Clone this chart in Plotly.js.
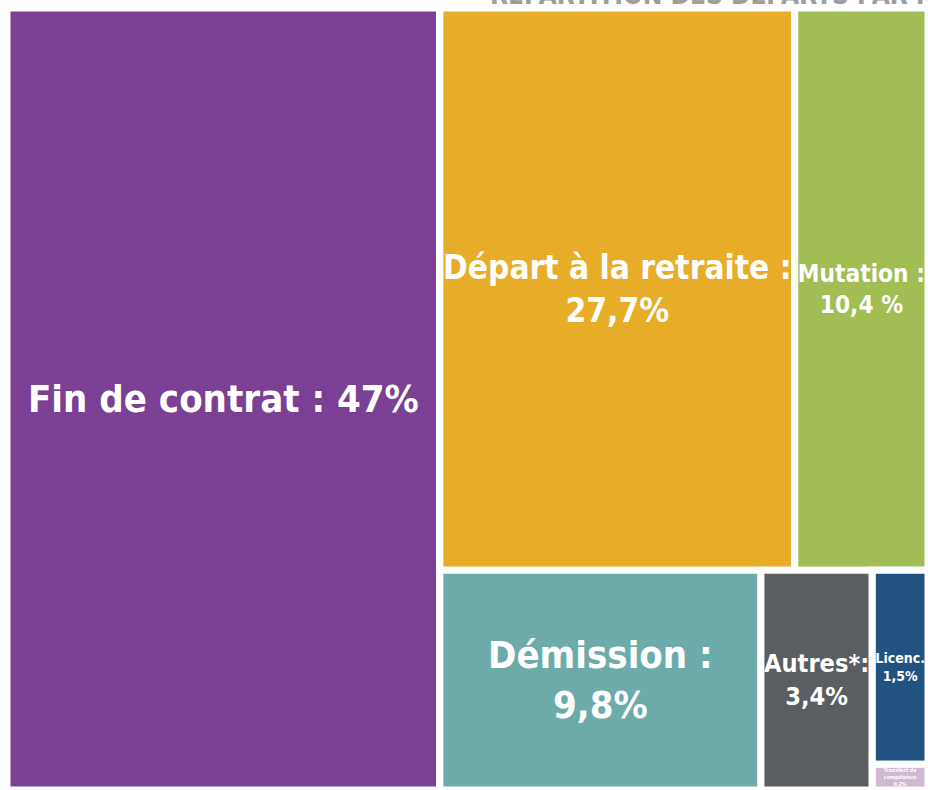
<!DOCTYPE html>
<html>
<head>
<meta charset="utf-8">
<script src="https://cdn.plot.ly/plotly-3.0.1.min.js"></script>
<style>
  html, body { margin: 0; padding: 0; background: #ffffff; overflow: hidden; }
  #chart { width: 928px; height: 790px; }
</style>
</head>
<body>
<div id="chart"></div>
<script>
// ---- data ----
const categories = ['Fin de contrat', 'Départ à la retraite', 'Mutation', 'Démission', 'Autres*', 'Licenc.', 'Transfert de compétence'];
const shares = [47, 27.7, 10.4, 9.8, 3.4, 1.5, 0.2];
const cellTexts = ['Fin de contrat : 47%', 'Départ à la retraite :<br>27,7%', 'Mutation :<br>10,4 %', 'Démission :<br>9,8%', 'Autres*:<br>3,4%', 'Licenc.<br>1,5%', 'Transfert de<br>compétence<br>0,2%'];
const cellColors = ['#7B3F93', '#E8AD28', '#A1BD53', '#6DAAAA', '#5A5E60', '#22527F', '#D0B8D3'];
// grouping that reproduces the block arrangement of the infographic
const groupOf = ['root', 'haut', 'haut', 'bas', 'bas', 'petits', 'petits'];
const groupIds = ['root', 'reste', 'haut', 'bas', 'petits'];
const groupParents = ['', 'root', 'reste', 'reste', 'bas'];
// drawing order of nodes (groups and categories), left-to-right / top-to-bottom
const nodeOrder = ['root', 0, 'reste', 'haut', 1, 2, 'bas', 3, 4, 'petits', 5, 6];
const chartTitle = 'RÉPARTITION DES DÉPARTS PAR MOTIF';

const FONT = 'DejaVu Sans Condensed, Liberation Sans Narrow, Roboto, sans-serif';

// ---- build treemap arrays ----
const ids = [], labels = [], parents = [], values = [], colors = [], texts = [], sizes = [];
nodeOrder.forEach(n => {
  if (typeof n === 'string') {
    const gi = groupIds.indexOf(n);
    ids.push(n); labels.push(' '); parents.push(groupParents[gi]); values.push(0);
    colors.push('#ffffff'); texts.push(''); sizes.push(10);
  } else {
    ids.push('c' + n); labels.push(categories[n]); parents.push(groupOf[n]); values.push(shares[n]);
    colors.push(cellColors[n]); texts.push(cellTexts[n]);
    sizes.push(n < 5 ? 38 : 26);
  }
});

const trace = {
  type: 'treemap',
  ids: ids,
  labels: labels,
  parents: parents,
  values: values,
  branchvalues: 'remainder',
  sort: false,
  text: texts,
  texttemplate: '%{text}',
  textinfo: 'text',
  textposition: 'middle center',
  textfont: { family: FONT, size: sizes, color: '#ffffff', weight: 'bold' },
  marker: {
    colors: colors,
    line: { width: 7, color: '#ffffff' },
    pad: { t: 0, l: 0, r: 0, b: 0 }
  },
  tiling: { packing: 'slice-dice', pad: 0 },
  pathbar: { visible: false },
  hoverinfo: 'skip',
  root: { color: '#ffffff' },
  domain: { x: [0, 1], y: [0, 1] }
};

const layout = {
  width: 928,
  height: 790,
  margin: { l: 7, r: 0, t: 8, b: 0 },
  paper_bgcolor: '#ffffff',
  title: {
    text: '<b>' + chartTitle + '</b>',
    font: { family: FONT, size: 26, color: '#9D9D9D' },
    x: 0.528, xanchor: 'left', xref: 'container',
    y: 1.008, yanchor: 'bottom', yref: 'container'
  },
  showlegend: false
};

Plotly.newPlot('chart', [trace], layout, { displayModeBar: false, staticPlot: true });
</script>
</body>
</html>
